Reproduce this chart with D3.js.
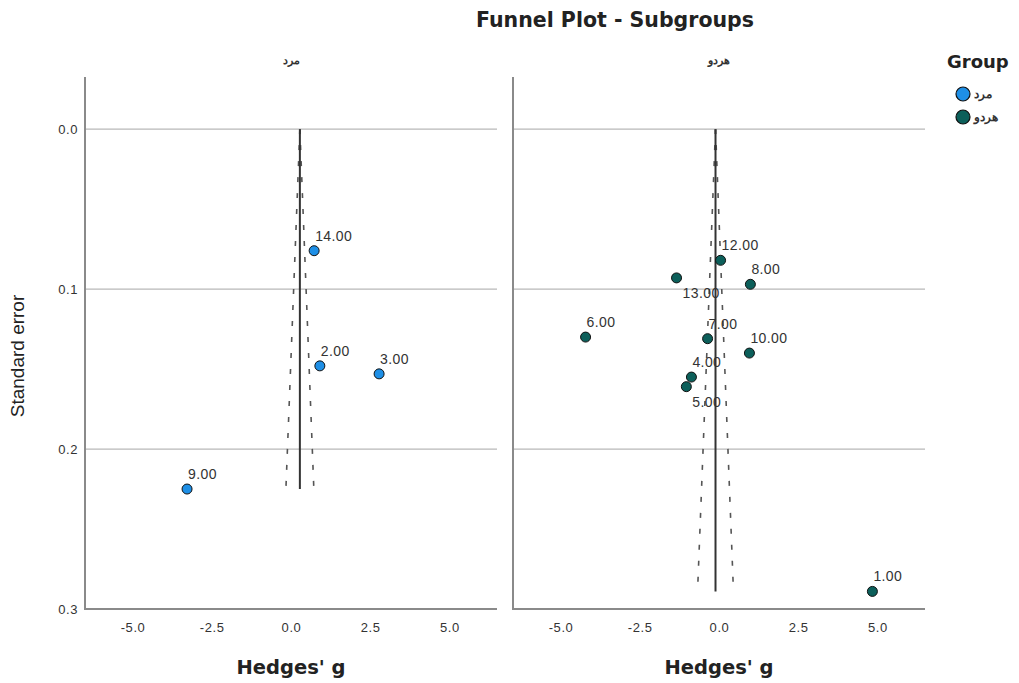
<!DOCTYPE html>
<html>
<head>
<meta charset="utf-8">
<script src="https://cdn.jsdelivr.net/npm/d3@7"></script>
<style>
  body { margin: 0; background: #fff; }
  svg { font-family: Arial, "Liberation Sans", sans-serif; }
</style>
</head>
<body>
<svg width="1019" height="683"></svg>
<script>
// subgroups (panel order)
const groups = ["مرد", "هردو"];
const groupColors = ["#1e8fe6", "#0c5f5a"];
const pooledEstimate = [0.28, -0.11];

// study points per group: id, Hedges' g, standard error
const studyIds = [[14, 2, 3, 9], [12, 8, 13, 6, 7, 10, 4, 5, 1]];
const hedgesG = [[0.73, 0.91, 2.78, -3.28], [0.05, 0.99, -1.34, -4.21, -0.36, 0.96, -0.87, -1.03, 4.84]];
const stdErr = [[0.076, 0.148, 0.153, 0.225], [0.082, 0.097, 0.093, 0.130, 0.131, 0.140, 0.155, 0.161, 0.289]];

const xTicks = [-5, -2.5, 0, 2.5, 5];
const yTicks = [0, 0.1, 0.2, 0.3];

const svg = d3.select("svg");
const panelW = 412, plotTop = 77, plotBottom = 609;
const panelX = [85, 513];
const wide = "'DejaVu Sans', Verdana, sans-serif";
const plain = "Arial, 'Liberation Sans', sans-serif";
const fmt1 = d => d.toFixed(1);   // plain hyphen minus like SPSS

const x = d3.scaleLinear().domain([-6.5, 6.5]).range([0, panelW]);
const y = d3.scaleLinear().domain([-0.0326, 0.3]).range([plotTop, plotBottom]);

svg.append("text").attr("x", 615).attr("y", 27)
  .attr("text-anchor", "middle").attr("font-size", 20.5).attr("font-weight", "bold")
  .style("font-family", wide).attr("fill", "#222").text("Funnel Plot - Subgroups");

// labels that SPSS pushed below the point
const labelBelow = { 13: true, 5: true };

groups.forEach((g, gi) => {
  const p = svg.append("g").attr("transform", `translate(${panelX[gi]},0)`);

  p.append("text").attr("x", x(0)).attr("y", 64).attr("text-anchor", "middle")
    .attr("font-size", 11).attr("font-weight", "bold").attr("fill", "#333").text(g);

  // grid
  p.selectAll(".grid").data(yTicks.slice(0, 3)).enter().append("line")
    .attr("x1", 0).attr("x2", panelW)
    .attr("y1", d => y(d)).attr("y2", d => y(d))
    .attr("stroke", "#b8b8b8").attr("stroke-width", 1.2);

  // frame (left + bottom)
  p.append("path").attr("d", `M0,${plotTop}V${plotBottom}H${panelW}`)
    .attr("fill", "none").attr("stroke", "#8a8a8a").attr("stroke-width", 2);

  // axes labels
  const xa = p.append("g").attr("transform", `translate(0,${plotBottom})`)
    .call(d3.axisBottom(x).tickValues(xTicks).tickFormat(fmt1).tickSize(0).tickPadding(14));
  xa.select(".domain").remove();
  xa.selectAll("text").attr("font-size", 13).attr("letter-spacing", 0.6).attr("fill", "#333")
    .style("font-family", plain);

  if (gi === 0) {
    const ya = p.append("g")
      .call(d3.axisLeft(y).tickValues(yTicks).tickFormat(fmt1).tickSize(0).tickPadding(7));
    ya.select(".domain").remove();
    ya.selectAll("text").attr("font-size", 13).attr("letter-spacing", 0.6).attr("fill", "#333")
      .style("font-family", plain);
  }

  p.append("text").attr("x", x(0)).attr("y", 674).attr("text-anchor", "middle")
    .attr("font-size", 19.5).attr("font-weight", "bold").style("font-family", wide)
    .attr("fill", "#222").text("Hedges' g");

  // funnel
  const c = pooledEstimate[gi];
  const maxSe = d3.max(stdErr[gi]);
  [-1.96, 1.96].forEach(z => {
    p.append("line")
      .attr("x1", x(c)).attr("y1", y(0))
      .attr("x2", x(c + z * maxSe)).attr("y2", y(maxSe))
      .attr("stroke", "#555").attr("stroke-width", 1.6)
      .attr("stroke-dasharray", "5,11");
  });
  p.append("line")
    .attr("x1", x(c)).attr("x2", x(c)).attr("y1", y(0)).attr("y2", y(maxSe))
    .attr("stroke", "#333").attr("stroke-width", 2);

  const pts = studyIds[gi].map((id, i) => ({ id, g: hedgesG[gi][i], se: stdErr[gi][i] }));

  p.selectAll(".pt").data(pts).enter().append("circle")
    .attr("cx", d => x(d.g)).attr("cy", d => y(d.se)).attr("r", 5)
    .attr("fill", groupColors[gi]).attr("stroke", "#111").attr("stroke-width", 1);

  p.selectAll(".lbl").data(pts).enter().append("text")
    .attr("x", d => x(d.g) + (labelBelow[d.id] ? 6 : 1))
    .attr("y", d => y(d.se) + (labelBelow[d.id] ? 20 : -10))
    .attr("font-size", 14).attr("letter-spacing", 0.4).attr("fill", "#333")
    .text(d => d.id.toFixed(2));
});

svg.append("text").attr("transform", "translate(24,356) rotate(-90)")
  .attr("text-anchor", "middle").attr("font-size", 19).attr("fill", "#222").text("Standard error");

// legend
svg.append("text").attr("x", 947).attr("y", 68).attr("font-size", 18).attr("font-weight", "bold")
  .style("font-family", wide).attr("fill", "#222").text("Group");
groups.forEach((g, i) => {
  svg.append("circle").attr("cx", 963).attr("cy", 94 + i * 23).attr("r", 7)
    .attr("fill", groupColors[i]).attr("stroke", "#111").attr("stroke-width", 1.2);
  svg.append("text").attr("x", 974).attr("y", 98 + i * 23).attr("font-size", 12).attr("font-weight", "bold")
    .attr("fill", "#333").text(g);
});
</script>
</body>
</html>
